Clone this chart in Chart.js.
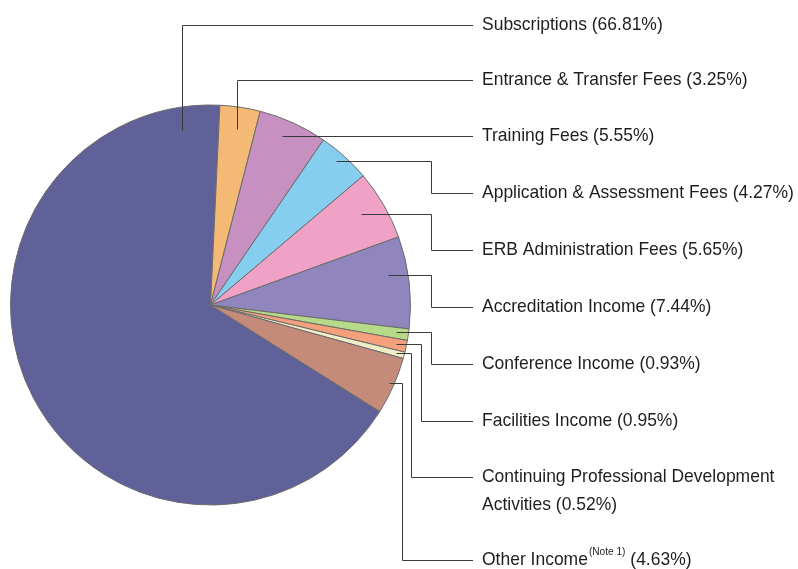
<!DOCTYPE html>
<html><head><meta charset="utf-8">
<script src="https://cdn.jsdelivr.net/npm/chart.js@4/dist/chart.umd.min.js"></script>
<style>html,body{margin:0;padding:0;background:#fff;overflow:hidden}#wrap{width:798px;height:569px;position:relative}</style>
</head><body><div id="wrap"><canvas id="c" width="798" height="569"></canvas></div>
<script>
// ---- data ----
const categories = ["Subscriptions","Entrance & Transfer Fees","Training Fees","Application & Assessment Fees","ERB Administration Fees","Accreditation Income","Conference Income","Facilities Income","Continuing Professional Development Activities","Other Income"];
const shares = [66.81,3.25,5.55,4.27,5.65,7.44,0.93,0.95,0.52,4.63];
const notes = ["","","","","","","","","","(Note 1)"];
const labelY = [25,80,136,193,250,307,364,421,477,560];

// ---- styling / layout ----
const colors = ["#5f6198","#f5b976","#c690c0","#86cef0","#f0a2c6","#9085bd","#b6d98a","#f4a07c","#f0ecc6","#c48a7a"];
const startOffsetDeg = 2.7;            // where the small slices start (clockwise from top)
const leaderAngleFrac = [0.95,0.5,0.43,0.43,0.45,0.38,0.45,0.5,0.5,0.49];
const leaderRadiusFrac = [0.887,0.89,0.92,0.954,0.878,0.902,0.94,0.95,0.958,0.975];
const leaderElbowX = [null,null,null,431.5,431.5,431.5,431.5,421.5,411.5,402.5];
const lineEndX = 473, textX = 482;
const FONT = "'Liberation Sans','Arial',sans-serif";
const FS = 19, SX = 0.92;

const total = shares.reduce((a,b)=>a+b,0);
const rotation = startOffsetDeg - shares[0]/total*360;

function drawText(ctx, t, x, y, size){
  ctx.font = size + 'px ' + FONT;
  ctx.save(); ctx.translate(x,y); ctx.scale(SX,1); ctx.fillText(t,0,0); ctx.restore();
  return ctx.measureText(t).width*SX;
}
function textW(ctx,t,size){ ctx.font = size + 'px ' + FONT; return ctx.measureText(t).width*SX; }

const leaderPlugin = {
  id:'leaders',
  afterDraw(chart){
    const ctx = chart.ctx;
    const arcs = chart.getDatasetMeta(0).data;
    ctx.save();
    ctx.strokeStyle = '#3a3a3a';
    ctx.lineWidth = 1;
    arcs.forEach((arc,i)=>{
      const a = arc.startAngle + (arc.endAngle-arc.startAngle)*leaderAngleFrac[i];
      const r = arc.outerRadius*leaderRadiusFrac[i];
      const ax = Math.round(arc.x + Math.cos(a)*r)+0.5;
      const ay = Math.round(arc.y + Math.sin(a)*r)+0.5;
      const ly = Math.round(labelY[i])+0.5;
      ctx.beginPath();
      if (leaderElbowX[i]===null){
        if (Math.abs(ay-ly) < 3){ ctx.moveTo(ax,ly); ctx.lineTo(lineEndX,ly); }
        else { ctx.moveTo(ax,ay); ctx.lineTo(ax,ly); ctx.lineTo(lineEndX,ly); }
      } else {
        ctx.moveTo(ax,ay); ctx.lineTo(leaderElbowX[i],ay); ctx.lineTo(leaderElbowX[i],ly); ctx.lineTo(lineEndX,ly);
      }
      ctx.stroke();
    });
    ctx.fillStyle = '#1e1e1e';
    ctx.textBaseline = 'middle';
    ctx.textAlign = 'left';
    categories.forEach((name,i)=>{
      const pct = ' (' + shares[i].toFixed(2) + '%)';
      if (notes[i]){
        let x = textX;
        x += drawText(ctx, name, x, labelY[i], FS);
        x += drawText(ctx, notes[i], x+1, labelY[i]-8, 11) + 1;
        drawText(ctx, pct, x, labelY[i], FS);
        return;
      }
      const full = name + pct;
      if (textW(ctx,full,FS) > 330){
        const words = full.split(' ');
        let lines=[], cur='';
        words.forEach(w=>{
          const t = cur ? cur+' '+w : w;
          if (textW(ctx,t,FS) > 300 && cur){ lines.push(cur); cur=w; } else cur=t;
        });
        lines.push(cur);
        lines.forEach((l,k)=>drawText(ctx, l, textX, labelY[i]+k*28, FS));
      } else {
        drawText(ctx, full, textX, labelY[i], FS);
      }
    });
    ctx.restore();
  }
};

new Chart(document.getElementById('c'),{
  type:'pie',
  data:{labels:categories,datasets:[{data:shares,backgroundColor:colors,borderColor:'#6b6b6b',borderWidth:1}]},
  options:{
    responsive:false,animation:false,rotation:rotation,
    layout:{padding:{left:10,top:104,right:387,bottom:63}},
    plugins:{legend:{display:false},tooltip:{enabled:false}}
  },
  plugins:[leaderPlugin]
});
</script></body></html>
